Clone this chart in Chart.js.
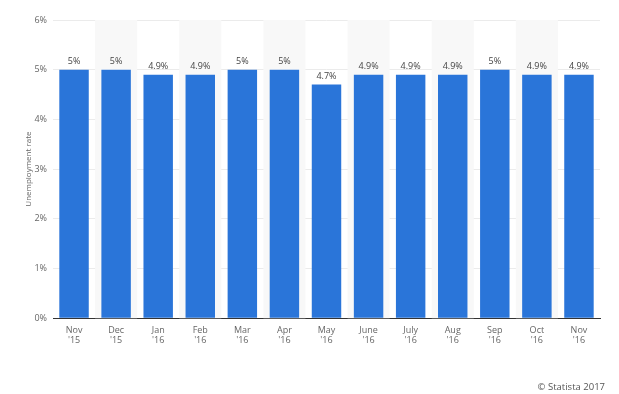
<!DOCTYPE html>
<html>
<head>
<meta charset="utf-8">
<script src="https://cdn.jsdelivr.net/npm/chart.js@4.4.1/dist/chart.umd.min.js"></script>
<style>
  html, body { margin: 0; padding: 0; background: #fff; }
  #wrap { position: relative; width: 619px; height: 394px; }
  #credit { position: absolute; right: 14px; top: 380px; font: 9.5px "Open Sans", sans-serif; color: #555; }
</style>
</head>
<body>
<div id="wrap">
  <canvas id="chart" width="619" height="394"></canvas>
  <div id="credit">© Statista 2017</div>
</div>
<script>
// months shown on the x axis (two lines each)
const months = ['Nov', 'Dec', 'Jan', 'Feb', 'Mar', 'Apr', 'May', 'June', 'July', 'Aug', 'Sep', 'Oct', 'Nov'];
const years = ["'15", "'15", "'16", "'16", "'16", "'16", "'16", "'16", "'16", "'16", "'16", "'16", "'16"];
const rates = [5, 5, 4.9, 4.9, 5, 5, 4.7, 4.9, 4.9, 4.9, 5, 4.9, 4.9];
const yTicks = [0, 1, 2, 3, 4, 5, 6];

const labels = months.map((m, i) => [m, years[i]]);

/* ---------------- stripes behind every second column ---------------- */
const stripes = {
  id: 'stripes',
  beforeDatasetsDraw(chart) {
    const { ctx, chartArea, scales } = chart;
    const x = scales.x;
    const step = x.width / labels.length;
    ctx.save();
    ctx.fillStyle = '#f8f8f8';
    labels.forEach((l, i) => {
      if (i % 2 === 1) {
        const cx = x.getPixelForValue(i);
        ctx.fillRect(cx - step / 2, chartArea.top, step, chartArea.bottom - chartArea.top);
      }
    });
    ctx.restore();
  }
};

/* ---------------- value labels above bars ---------------- */
const valueLabels = {
  id: 'valueLabels',
  afterDatasetsDraw(chart) {
    const { ctx } = chart;
    const meta = chart.getDatasetMeta(0);
    ctx.save();
    ctx.font = '9px "Open Sans", sans-serif';
    ctx.fillStyle = '#444';
    ctx.textAlign = 'center';
    ctx.textBaseline = 'bottom';
    meta.data.forEach((bar, i) => {
      ctx.fillText(rates[i] + '%', bar.x, bar.y - 4);
    });
    ctx.restore();
  }
};

new Chart(document.getElementById('chart'), {
  type: 'bar',
  data: {
    labels: labels,
    datasets: [{
      data: rates,
      backgroundColor: '#2a75d9',
      categoryPercentage: 0.7,
      barPercentage: 1
    }]
  },
  options: {
    responsive: false,
    animation: false,
    layout: { padding: { left: 24, right: 19, top: 20, bottom: 42 } },
    plugins: { legend: { display: false }, tooltip: { enabled: false } },
    scales: {
      x: {
        grid: { display: false, drawTicks: false },
        border: { color: '#333', width: 1 },
        ticks: { color: '#666', font: { family: 'Open Sans', size: 9, lineHeight: 1.1 }, padding: 7, maxRotation: 0 }
      },
      y: {
        min: 0,
        max: 6,
        afterBuildTicks(scale) { scale.ticks = yTicks.map(v => ({ value: v })); },
        afterFit(scale) { scale.width = 29; },
        grid: { color: '#ebebeb', drawTicks: false },
        border: { display: false },
        ticks: {
          color: '#666',
          font: { family: 'Open Sans', size: 9 },
          padding: 6,
          callback: v => v + '%'
        },
        title: {
          display: true,
          text: 'Unemployment rate',
          color: '#666',
          font: { family: 'Open Sans', size: 8 },
          padding: 0
        }
      }
    }
  },
  plugins: [stripes, valueLabels]
});
</script>
</body>
</html>
